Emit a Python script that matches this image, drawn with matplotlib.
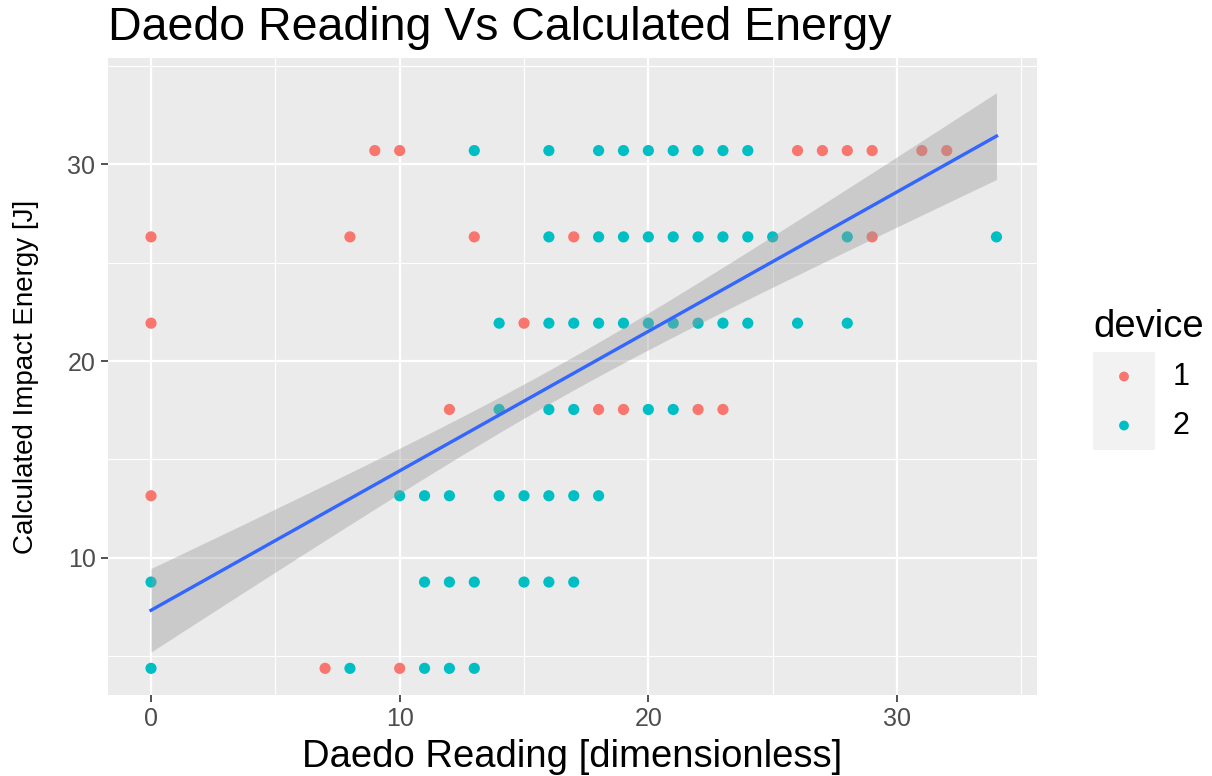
import numpy as np
import matplotlib
matplotlib.use("Agg")
import matplotlib.pyplot as plt

# ---- data ----
# energy levels [J]
E1, E2, E3, E4, E5, E6, E7 = 4.385, 8.77, 13.155, 17.54, 21.925, 26.31, 30.695

# device 1: reading, energy, number of overlapping observations
dev1_x = [9, 10, 26, 27, 28, 29, 31, 32,
          0, 8, 13, 17, 29,
          0, 15,
          12, 18, 19, 22, 23,
          0, 10, 11, 12, 14, 15, 16, 17, 18,
          0, 11, 12, 13, 15, 16, 17,
          7, 10, 0, 8, 11, 12, 13]
dev1_y = ([E7] * 8 + [E6] * 5 + [E5] * 2 + [E4] * 5 +
          [E3] * 9 + [E2] * 7 + [E1] * 7)
dev1_n = ([3, 3, 3, 3, 3, 3, 4, 4] + [3] * 5 + [3] * 2 + [3] * 5 +
          [3] + [2] * 8 + [2] * 7 + [3, 3] + [2] * 5)

# device 2
dev2_x = [13, 16, 18, 19, 20, 21, 22, 23, 24,
          16, 18, 19, 20, 21, 22, 23, 24, 25, 28, 34,
          14, 16, 17, 18, 19, 20, 21, 22, 23, 24, 26, 28,
          14, 16, 17, 20, 21,
          10, 11, 12, 14, 15, 16, 17, 18,
          0, 11, 12, 13, 15, 16, 17,
          0, 8, 11, 12, 13]
dev2_y = ([E7] * 9 + [E6] * 11 + [E5] * 12 + [E4] * 5 +
          [E3] * 8 + [E2] * 7 + [E1] * 5)
dev2_n = ([3, 3, 5, 5, 4, 3, 3, 3, 3] + [3] * 10 + [1] + [3] * 12 + [3] * 5 +
          [3] * 8 + [3] * 7 + [3] * 5)

devices = ["1", "2"]
colors = ["#F8766D", "#00BFC4"]

title = "Daedo Reading Vs Calculated Energy"
xlabel = "Daedo Reading [dimensionless]"
ylabel = "Calculated Impact Energy [J]"
xticks = [0, 10, 20, 30]
yticks = [10, 20, 30]

# ---- linear fit with 95% CI (like geom_smooth(method='lm')) ----
x_all = np.concatenate([np.repeat(dev1_x, dev1_n), np.repeat(dev2_x, dev2_n)]).astype(float)
y_all = np.concatenate([np.repeat(dev1_y, dev1_n), np.repeat(dev2_y, dev2_n)]).astype(float)
n = len(x_all)
b, a = np.polyfit(x_all, y_all, 1)
resid = y_all - (a + b * x_all)
s = np.sqrt(np.sum(resid ** 2) / (n - 2))
xbar = x_all.mean()
sxx = np.sum((x_all - xbar) ** 2)
t_crit = 1.968
xs = np.linspace(x_all.min(), x_all.max(), 80)
ys = a + b * xs
se = s * np.sqrt(1.0 / n + (xs - xbar) ** 2 / sxx)

# device-1 points that lie exactly under a device-2 point are hidden anyway
covered = set(zip(dev2_x, dev2_y))
vis1 = [(x, y) for x, y in zip(dev1_x, dev1_y) if (x, y) not in covered]
vis1_x = [p[0] for p in vis1]
vis1_y = [p[1] for p in vis1]

plt.rcParams['font.family'] = ['Liberation Sans', 'DejaVu Sans']

W, H = 1212, 776
fig = plt.figure(figsize=(W / 100, H / 100), dpi=100)
fig.patch.set_facecolor("white")

L, R, T, B = 108, 1037, 58, 695
ax = fig.add_axes([L / W, 1 - B / H, (R - L) / W, (B - T) / H])
ax.set_facecolor("#EBEBEB")
for sp in ax.spines.values():
    sp.set_visible(False)

ax.set_xlim(-1.73, 35.63)
ax.set_ylim(3.03, 35.4)

for v in [5, 15, 25, 35]:
    ax.axvline(v, color="white", lw=0.8, zorder=0.5)
    ax.axhline(v, color="white", lw=0.8, zorder=0.5)
for v in xticks:
    ax.axvline(v, color="white", lw=1.6, zorder=0.6)
for v in yticks:
    ax.axhline(v, color="white", lw=1.6, zorder=0.6)

ax.scatter(vis1_x, vis1_y, s=65, color=colors[0], edgecolors="none", zorder=2)
ax.scatter(dev2_x, dev2_y, s=65, color=colors[1], edgecolors="none", zorder=2.1)

ax.fill_between(xs, ys - t_crit * se, ys + t_crit * se, color="#999999", alpha=0.4,
                lw=0, zorder=3)
ax.plot(xs, ys, color="#3366FF", lw=2.4, zorder=4)

ax.set_xticks(xticks)
ax.set_yticks(yticks)
ax.tick_params(axis="both", length=5, width=1.2, color="#333333",
               labelcolor="#4D4D4D", labelsize=18, pad=4)

fig.text(L / W, 1 - 28 / H, title, fontsize=33.5, color="black", ha="left", va="center")
fig.text((L + R) / 2 / W, 1 - 757 / H, xlabel, fontsize=27.5, color="black",
         ha="center", va="center")
fig.text(26 / W, 1 - (T + B) / 2 / H, ylabel, fontsize=20, color="black",
         ha="center", va="center", rotation=90)

# ---- legend ----
fig.text(1093 / W, 1 - 327 / H, "device", fontsize=27.5, color="black", ha="left", va="center")
lax = fig.add_axes([1093 / W, 1 - 450 / H, 62 / W, 98 / H])
lax.set_facecolor("#F2F2F2")
for sp in lax.spines.values():
    sp.set_visible(False)
lax.set_xticks([])
lax.set_yticks([])
lax.set_xlim(0, 1)
lax.set_ylim(0, 2)
for i, (lab, c) in enumerate(zip(devices, colors)):
    lax.scatter([0.5], [1.5 - i], s=50, color=c, edgecolors="none")
    fig.text(1173 / W, 1 - (377 + 49 * i) / H, lab, fontsize=22, color="black",
             ha="left", va="center")

fig.savefig("out.png", dpi=100)
